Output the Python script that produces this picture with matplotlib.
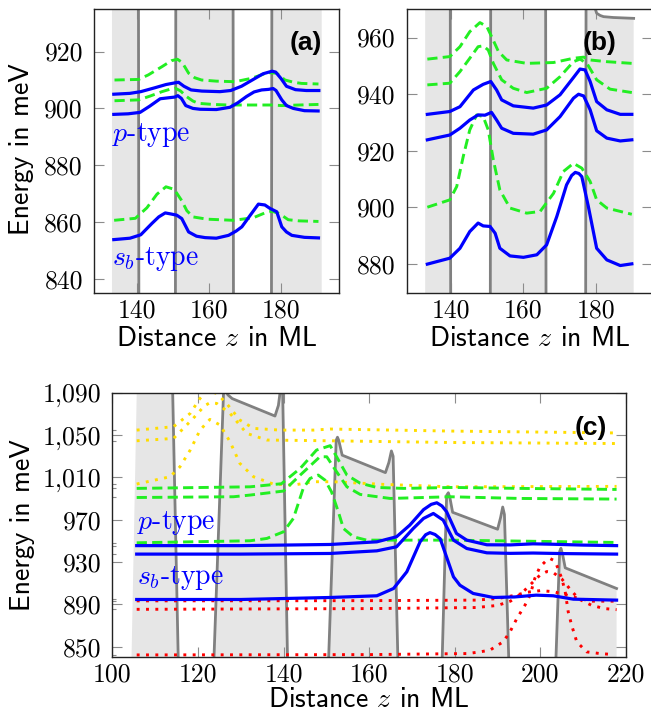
import numpy as np
import matplotlib.pyplot as plt
from matplotlib.ticker import FixedLocator, FuncFormatter

plt.rcParams['mathtext.fontset'] = 'cm'

BLUE = '#0000ff'
GREEN = '#22ee22'
YELLOW = '#ffdd00'
RED = '#ff0000'
POT_LINE = '#808080'
POT_FILL = '#e6e6e6'

# ---------------- panel (a) ----------------
a_pot_z = [133.0, 140.3, 140.5, 150.6, 150.8, 166.6, 166.8, 177.3, 177.5, 191.3]
a_pot_V = [1000, 1000, 800, 800, 1000, 1000, 800, 800, 1000, 1000]

a_p1_z = [133.5, 138.0, 141.0, 145.0, 148.0, 150.5, 151.5, 153.0, 155.0, 158.0, 163.0, 166.0, 169.0,
          172.0, 175.0, 177.5, 178.5, 180.0, 181.5, 184.0, 187.0, 190.5]
a_p1_E = [905.0, 905.3, 905.9, 907.3, 908.4, 909.0, 909.2, 907.8, 906.5, 906.1, 905.9, 906.3, 907.8,
          910.0, 912.2, 913.1, 912.8, 910.5, 907.8, 906.6, 906.3, 906.3]
a_p2_z = [133.5, 137.5, 140.8, 143.5, 146.4, 149.1, 150.5, 151.3, 152.3, 153.5, 155.5, 157.5, 162.0,
          165.8, 168.0, 170.4, 172.5, 174.6, 176.5, 177.8, 178.6, 180.2, 181.5, 183.4, 186.5, 190.3]
a_p2_E = [897.9, 898.1, 898.6, 900.8, 903.4, 903.8, 904.0, 904.5, 903.5, 901.0, 900.0, 899.7, 899.6,
          900.4, 902.0, 904.2, 905.8, 906.5, 906.7, 907.0, 906.3, 903.0, 901.0, 900.0, 899.2, 899.1]
a_s_z = [133.5, 138.0, 141.0, 144.1, 146.0, 147.8, 149.5, 151.0, 152.4, 154.3, 156.5, 158.9, 162.0,
         165.4, 167.5, 169.1, 171.5, 173.7, 175.5, 176.9, 178.8, 180.2, 181.5, 183.0, 186.5, 190.4]
a_s_E = [853.8, 854.3, 855.5, 859.5, 861.8, 863.2, 862.8, 862.4, 861.2, 856.5, 855.0, 854.5, 854.3,
         855.3, 856.8, 858.3, 862.5, 866.3, 866.0, 864.8, 863.6, 858.3, 856.5, 855.3, 854.6, 854.4]
a_g1_z = [133.7, 140.4, 143.1, 146.9, 149.5, 151.2, 152.5, 154.3, 156.0, 157.9, 162.0, 167.2, 171.8,
          174.5, 176.5, 178.8, 181.1, 183.5, 185.7, 190.4]
a_g1_E = [910.0, 910.2, 911.8, 914.7, 916.8, 917.3, 916.2, 912.4, 910.8, 910.0, 909.6, 909.4, 910.6,
          911.8, 912.6, 912.4, 910.0, 909.2, 908.8, 908.6]
a_g2_z = [133.7, 140.4, 143.5, 146.9, 149.0, 150.6, 152.0, 153.8, 155.5, 157.0, 161.0, 165.4, 171.0,
          177.4, 180.2, 185.0, 190.4]
a_g2_E = [902.7, 903.0, 904.3, 905.9, 906.7, 907.1, 906.2, 904.1, 902.6, 901.8, 901.4, 901.2, 901.2,
          901.2, 901.0, 901.2, 901.4]
a_g3_z = [133.6, 139.5, 142.7, 145.5, 148.0, 150.3, 152.4, 153.8, 155.5, 159.4, 166.7, 172.3, 175.5,
          177.4, 179.5, 182.0, 185.0, 190.4]
a_g3_E = [860.6, 861.3, 865.0, 869.8, 872.4, 871.5, 867.5, 864.0, 861.8, 861.0, 860.6, 861.5, 863.2,
          863.8, 863.0, 860.8, 860.4, 860.2]

# ---------------- panel (b) ----------------
b_pot_z = [132.9, 139.8, 140.0, 150.8, 151.0, 166.1, 166.3, 177.1, 177.3, 179.4, 179.6, 180.2, 181.2,
           182.1, 184.8, 190.4]
b_pot_V = [1000, 1000, 800, 800, 1000, 1000, 800, 800, 1000, 985, 971, 968.6, 967.8, 967.4, 967.1, 966.8]

b_p1_z = [133.5, 139.7, 142.5, 146.2, 148.9, 151.0, 152.6, 154.0, 157.2, 162.7, 166.4, 170.1, 173.8,
          175.6, 177.0, 178.4, 180.2, 183.0, 186.7, 189.9]
b_p1_E = [932.9, 933.9, 935.6, 941.5, 943.5, 944.5, 941.5, 938.0, 935.9, 935.1, 936.2, 939.8, 945.9,
          948.9, 948.6, 944.5, 937.4, 934.5, 932.9, 932.9]
b_p2_z = [133.5, 139.7, 142.5, 145.2, 147.5, 149.4, 151.2, 152.6, 154.0, 157.2, 162.7, 166.4, 170.1,
          173.8, 175.2, 176.6, 178.4, 180.2, 183.0, 186.7, 189.9]
b_p2_E = [923.9, 925.6, 928.0, 930.9, 932.7, 932.6, 933.6, 930.9, 928.0, 926.2, 925.9, 927.4, 932.1,
          938.6, 940.0, 939.4, 934.5, 927.1, 924.5, 923.5, 923.9]
b_s_z = [133.5, 139.7, 142.5, 145.2, 147.5, 148.9, 150.8, 152.2, 153.5, 156.3, 160.0, 163.7, 166.4,
         169.2, 171.9, 173.3, 174.3, 175.3, 176.1, 177.9, 180.2, 183.0, 186.7, 189.9]
b_s_E = [880.0, 882.1, 885.6, 891.5, 894.5, 893.5, 893.3, 890.9, 885.6, 882.9, 882.4, 883.3, 886.8,
         896.8, 908.0, 911.3, 912.4, 912.0, 910.9, 900.4, 885.6, 881.5, 879.5, 880.1]
b_g1_z = [133.5, 139.7, 142.5, 145.2, 148.0, 149.9, 151.2, 153.1, 155.4, 160.9, 168.3, 173.8, 176.6,
          178.4, 183.0, 189.9]
b_g1_E = [952.4, 953.3, 956.8, 962.1, 965.3, 963.9, 960.4, 955.1, 952.1, 950.9, 951.2, 952.7, 953.1,
          952.1, 951.5, 950.9]
b_g2_z = [133.5, 139.7, 142.5, 145.2, 147.5, 148.9, 150.3, 151.7, 154.0, 157.2, 160.9, 166.4, 170.1,
          173.8, 175.6, 177.5, 180.2, 183.9, 189.9]
b_g2_E = [943.3, 943.9, 948.0, 952.7, 956.8, 957.1, 955.6, 950.9, 945.1, 942.1, 940.6, 942.1, 946.2,
          951.5, 952.4, 950.9, 945.1, 941.8, 940.6]
b_g3_z = [133.5, 139.7, 141.6, 143.4, 145.2, 147.1, 148.9, 150.3, 151.7, 153.5, 156.3, 160.9, 164.6,
          168.3, 171.0, 173.8, 176.1, 178.4, 180.2, 183.0, 189.9]
b_g3_E = [900.1, 902.7, 907.4, 918.0, 927.4, 932.7, 932.1, 927.4, 916.8, 906.2, 899.8, 898.0, 898.6,
          905.0, 912.7, 915.6, 913.9, 909.2, 902.7, 899.8, 897.6]

# ---------------- panel (c) ----------------
c_pot_z = [104.3, 106.0, 113.8, 115.6, 123.4, 126.0, 126.4, 127.0, 128.0, 138.0, 138.8, 139.5, 139.8,
           141.1, 150.2, 152.3, 152.6, 152.9, 153.7, 163.8, 164.6, 165.2, 165.6, 166.7, 166.9, 176.8,
           178.1, 178.5, 178.9, 179.5, 190.0, 190.7, 191.2, 191.6, 192.6, 192.8, 203.3, 204.5, 204.8,
           205.2, 205.8, 217.8]
c_pot_V = [800, 1150, 1150, 800, 800, 1092, 1093, 1088, 1084.5, 1068, 1078, 1100, 1090,
           800, 800, 1045, 1048, 1045, 1031, 1014.5, 1024, 1035, 1030, 840, 800, 800,
           993, 995.5, 990, 977, 961, 972, 982, 975, 840, 800, 800, 940, 943,
           937, 924.5, 905]

c_p1_z = [105.7, 130.0, 150.9, 161.8, 166.4, 169.5, 172.7, 174.5, 175.8, 177.0, 178.1, 180.4, 182.8,
          187.5, 193.0, 198.3, 203.0, 210.0, 217.8]
c_p1_E = [945.5, 945.5, 946.6, 949.1, 953.9, 964.9, 979.5, 984.5, 986.0, 983.0, 977.5, 957.0, 950.7,
          946.3, 946.2, 947.2, 946.8, 946.0, 945.5]
c_p2_z = [105.7, 130.0, 150.9, 161.8, 166.4, 170.3, 172.7, 175.0, 177.3, 179.7, 182.8, 187.5, 193.0,
          198.3, 205.0, 217.8]
c_p2_E = [937.5, 937.5, 938.1, 940.6, 944.4, 961.7, 971.2, 975.9, 969.6, 950.7, 942.8, 938.7, 938.2,
          938.5, 938.0, 937.5]
c_s_z = [105.7, 130.0, 150.9, 161.8, 165.7, 168.8, 171.9, 173.2, 174.2, 175.4, 176.6, 179.7, 181.2,
         184.3, 189.0, 194.0, 199.0, 203.0, 207.7, 217.8]
c_s_E = [894.6, 894.6, 896.5, 898.1, 905.0, 920.8, 949.1, 955.8, 957.8, 956.0, 952.0, 916.0, 908.1,
         900.3, 896.5, 897.0, 898.7, 898.1, 894.9, 894.0]
c_g1_z = [105.7, 132.2, 139.5, 143.9, 147.7, 150.9, 152.4, 154.8, 157.9, 161.8, 168.0, 179.7, 195.2,
          217.8]
c_g1_E = [999.6, 1001.1, 1004.0, 1018.5, 1035.8, 1040.0, 1029.5, 1012.2, 1004.5, 1000.5, 999.6,
          1000.5, 999.6, 998.6]
c_g2_z = [105.7, 128.3, 132.2, 140.0, 143.9, 148.5, 150.1, 152.4, 154.8, 157.9, 164.9, 178.9, 195.2,
          217.8]
c_g2_E = [991.0, 991.7, 993.3, 997.1, 1012.2, 1029.5, 1029.5, 1015.3, 1001.1, 993.9, 990.1, 991.7,
          990.1, 989.5]
c_g3_z = [105.7, 132.2, 136.1, 140.0, 142.3, 144.6, 146.2, 148.1, 149.7, 151.2, 152.8, 154.0, 156.3,
          159.4, 178.9, 217.8]
c_g3_E = [948.2, 950.1, 952.3, 958.6, 971.2, 999.6, 1009.0, 1012.2, 1007.4, 996.4, 977.5, 961.7,
          953.9, 950.7, 950.7, 948.5]
c_y1_z = [105.7, 114.3, 118.2, 120.5, 121.7, 122.6, 124.4, 126.7, 129.8, 133.0, 139.2, 147.0, 150.9,
          178.9, 217.8]
c_y1_E = [1054.7, 1057.9, 1070.5, 1084.7, 1090.0, 1091.5, 1089.4, 1079.9, 1064.2, 1056.3, 1054.7,
          1054.7, 1055.7, 1053.8, 1052.0]
c_y2_z = [105.7, 114.3, 118.9, 121.5, 122.8, 124.4, 127.5, 131.4, 136.1, 150.9, 178.9, 217.8]
c_y2_E = [1044.6, 1046.8, 1065.8, 1077.5, 1080.6, 1079.9, 1070.5, 1051.6, 1045.3, 1044.6, 1043.0,
          1042.0]
c_y3_z = [105.7, 113.5, 115.8, 118.2, 120.5, 122.8, 125.2, 127.5, 129.8, 133.0, 137.6, 142.3, 147.0,
          151.6, 163.3, 178.9, 217.8]
c_y3_E = [1003.7, 1010.6, 1020.0, 1035.8, 1054.7, 1064.8, 1059.4, 1043.7, 1023.2, 1010.6, 1003.7,
          1002.7, 1005.9, 1005.9, 1003.4, 1001.1, 1001.5]
c_r1_z = [105.7, 160.0, 185.0, 190.0, 194.0, 197.0, 200.0, 203.0, 206.0, 209.0, 212.0, 215.0, 217.8]
c_r1_E = [893.3, 893.5, 894.0, 895.5, 898.5, 901.5, 903.0, 902.0, 899.0, 895.5, 893.0, 893.0, 893.0]
c_r2_z = [105.7, 160.0, 185.0, 190.0, 193.0, 195.5, 198.0, 200.0, 201.5, 203.0, 205.0, 207.0, 209.0,
          212.0, 215.0, 217.8]
c_r2_E = [885.3, 886.0, 887.0, 889.0, 893.0, 900.0, 910.0, 918.0, 921.0, 920.0, 914.0, 904.0, 895.0,
          889.0, 886.0, 885.0]
c_r3_z = [105.7, 160.0, 183.0, 185.9, 188.2, 191.3, 192.9, 194.5, 196.4, 197.6, 198.7, 199.9, 201.5,
          202.3, 203.0, 203.8, 205.0, 205.8, 206.5, 207.3, 208.5, 210.8, 213.9, 217.0]
c_r3_E = [842.2, 842.5, 843.5, 845.1, 846.7, 854.6, 864.0, 876.6, 889.2, 898.7, 914.5, 925.5, 931.8,
          933.2, 931.8, 927.1, 914.5, 901.9, 883.0, 870.3, 854.6, 845.1, 843.5, 842.6]


def draw_pot(ax, z, V, line_from=0):
    ax.fill([z[0]] + list(z) + [z[-1]], [700] + list(V) + [700], color=POT_FILL, lw=0, zorder=1)
    ax.plot(z[line_from:], V[line_from:], color=POT_LINE, lw=2.0, zorder=2)


def solid(ax, z, E):
    ax.plot(z, E, color=BLUE, lw=2.3, zorder=4)


def dashed(ax, z, E):
    ax.plot(z, E, color=GREEN, lw=2.1, dashes=(3.5, 1.8), zorder=3)


def dotted(ax, z, E, c):
    ax.plot(z, E, color=c, lw=2.1, dashes=(1.0, 2.2), zorder=3)


def style(ax, xt, yt, xlim, ylim):
    ax.set_xlim(xlim)
    ax.set_ylim(ylim)
    ax.xaxis.set_major_locator(FixedLocator(xt))
    ax.yaxis.set_major_locator(FixedLocator(yt))
    ax.yaxis.set_major_formatter(FuncFormatter(lambda v, p: f'{v:,.0f}'))
    ax.xaxis.set_major_formatter(FuncFormatter(lambda v, p: f'{v:,.0f}'))
    ax.tick_params(which='major', direction='in', length=7.5, width=0.8, color='#8c8c8c',
                   top=True, right=True, labelsize=18.5, labelfontfamily='cmr10')
    ax.tick_params(axis='x', pad=4.5)
    ax.tick_params(axis='y', pad=8)
    for s in ax.spines.values():
        s.set_linewidth(1.0)
        s.set_color('#222222')
        s.set_zorder(6)


fig = plt.figure(figsize=(6.51, 7.15), dpi=100)
ax_a = fig.add_axes([0.1444, 0.5902, 0.3763, 0.3972])
ax_b = fig.add_axes([0.6247, 0.5902, 0.3776, 0.3972])
ax_c = fig.add_axes([0.1725, 0.0815, 0.7891, 0.3692])

lab_kw = dict(fontfamily='cmss10', fontsize=20)
txt_kw = dict(fontfamily='cmr10', fontsize=20, color=BLUE, ha='left', va='center', zorder=7)
pan_kw = dict(fontfamily='Liberation Sans', fontweight='bold', fontsize=19, ha='right', va='center')

# (a)
draw_pot(ax_a, a_pot_z, a_pot_V)
for z, E in [(a_g1_z, a_g1_E), (a_g2_z, a_g2_E), (a_g3_z, a_g3_E)]:
    dashed(ax_a, z, E)
for z, E in [(a_p1_z, a_p1_E), (a_p2_z, a_p2_E), (a_s_z, a_s_E)]:
    solid(ax_a, z, E)
style(ax_a, [140, 160, 180], [840, 860, 880, 900, 920], (128.0, 196.1), (835, 935))
ax_a.text(133.0, 890.6, r'$p$-type', **txt_kw)
ax_a.text(133.0, 847.1, r'$s_b$-type', **txt_kw)
ax_a.text(0.929, 0.879, '(a)', transform=ax_a.transAxes, **pan_kw)
ax_a.set_ylabel('Energy in meV', va='center', **lab_kw)
ax_a.yaxis.set_label_coords(-0.295, 0.505)
ax_a.set_xlabel('Distance $z$ in ML', va='baseline', **lab_kw)
ax_a.xaxis.set_label_coords(0.5, -0.185)

# (b)
draw_pot(ax_b, b_pot_z, b_pot_V)
for z, E in [(b_g1_z, b_g1_E), (b_g2_z, b_g2_E), (b_g3_z, b_g3_E)]:
    dashed(ax_b, z, E)
for z, E in [(b_p1_z, b_p1_E), (b_p2_z, b_p2_E), (b_s_z, b_s_E)]:
    solid(ax_b, z, E)
style(ax_b, [140, 160, 180], [880, 900, 920, 940, 960], (127.8, 195.6), (869.8, 970.1))
ax_b.text(0.853, 0.879, '(b)', transform=ax_b.transAxes, **pan_kw)
ax_b.set_xlabel('Distance $z$ in ML', va='baseline', **lab_kw)
ax_b.xaxis.set_label_coords(0.5, -0.185)

# (c)
draw_pot(ax_c, c_pot_z, c_pot_V, line_from=1)
for z, E in [(c_y1_z, c_y1_E), (c_y2_z, c_y2_E), (c_y3_z, c_y3_E)]:
    dotted(ax_c, z, E, YELLOW)
for z, E in [(c_r1_z, c_r1_E), (c_r2_z, c_r2_E), (c_r3_z, c_r3_E)]:
    dotted(ax_c, z, E, RED)
for z, E in [(c_g1_z, c_g1_E), (c_g2_z, c_g2_E), (c_g3_z, c_g3_E)]:
    dashed(ax_c, z, E)
for z, E in [(c_p1_z, c_p1_E), (c_p2_z, c_p2_E), (c_s_z, c_s_E)]:
    solid(ax_c, z, E)
style(ax_c, [100, 120, 140, 160, 180, 200, 220], [850, 890, 930, 970, 1010, 1050, 1090],
      (100, 220), (840.5, 1090))
c_levels = [E[0] for E in (c_y1_E, c_y2_E, c_y3_E, c_g1_E, c_g2_E, c_g3_E,
                           c_p1_E, c_p2_E, c_s_E, c_r1_E, c_r2_E, c_r3_E)]
ax_c.yaxis.set_minor_locator(FixedLocator(c_levels))
ax_c.tick_params(which='minor', direction='in', length=3, width=0.8, color='#8c8c8c',
                 left=True, right=False)
ax_c.text(105.8, 966.5, r'$p$-type', **txt_kw)
ax_c.text(105.8, 915.1, r'$s_b$-type', **txt_kw)
ax_c.text(0.9624, 0.865, '(c)', transform=ax_c.transAxes, **pan_kw)
ax_c.set_ylabel('Energy in meV', va='center', **lab_kw)
ax_c.yaxis.set_label_coords(-0.1748, 0.5)
ax_c.set_xlabel('Distance $z$ in ML', va='baseline', **lab_kw)
ax_c.xaxis.set_label_coords(0.5, -0.19)

fig.savefig('out.png', dpi=100)
